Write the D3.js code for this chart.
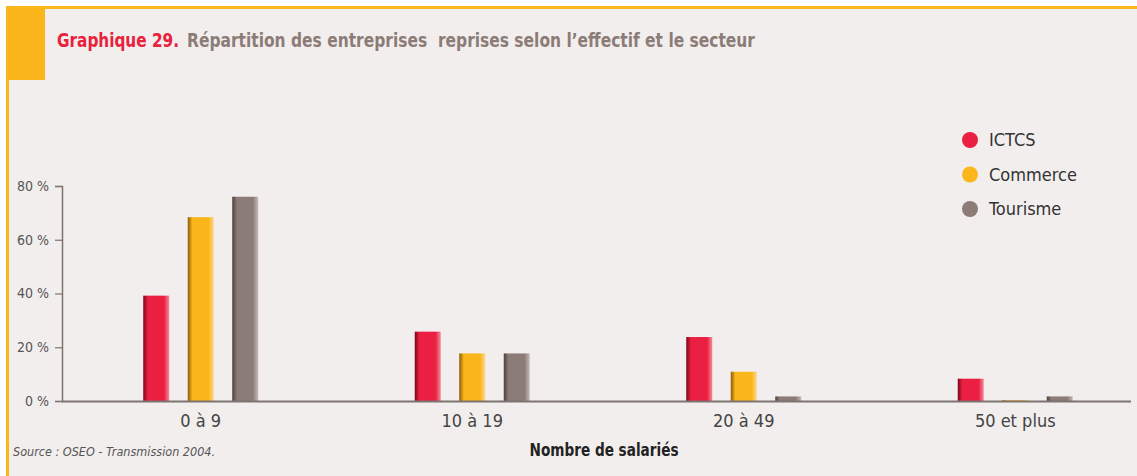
<!doctype html>
<html lang="fr">
<head>
<meta charset="utf-8"/>
<title>Graphique 29</title>
<script src="https://d3js.org/d3.v7.min.js"></script>
<style>
  body { margin: 0; background: #ffffff; }
  svg { display: block; }
</style>
</head>
<body>
<svg id="chart"></svg>
<script>
    // data
    const categories = ["0 à 9", "10 à 19", "20 à 49", "50 et plus"];
    const sectors = ["ICTCS", "Commerce", "Tourisme"];
    const ictcs = [39.2, 25.8, 23.8, 8.3];
    const commerce = [68.4, 17.7, 10.9, 0.3];
    const tourisme = [76.0, 17.7, 1.7, 1.7];
    const yTicks = [0, 20, 40, 60, 80];

    const series = [ictcs, commerce, tourisme];
    const colors = ["#ea1f41", "#fbb61b", "#8c7c77"];
    const darks = ["#7a0617", "#8a5a08", "#4a403d"];
    const lights = ["#f58a98", "#fdd68a", "#c7bcb8"];

    const width = 1137, height = 476;
    const bg = "#f2eeed", yellow = "#fbb61b";
    const font = "'Liberation Sans Narrow', 'DejaVu Sans Condensed', sans-serif";

    const svg = d3.select("#chart")
        .attr("width", width)
        .attr("height", height);

    // frame
    svg.append("rect").attr("x", 6).attr("y", 6).attr("width", width - 6).attr("height", height - 6).attr("fill", bg);
    svg.append("rect").attr("x", 6).attr("y", 6).attr("width", width - 6).attr("height", 3).attr("fill", yellow);
    svg.append("rect").attr("x", 6).attr("y", 6).attr("width", 3).attr("height", height - 6).attr("fill", yellow);
    svg.append("rect").attr("x", 6).attr("y", 6).attr("width", 39).attr("height", 74).attr("fill", yellow);

    // title, in two parts
    svg.append("text")
        .attr("x", 57).attr("y", 47)
        .attr("textLength", 122)
        .attr("lengthAdjust", "spacingAndGlyphs")
        .attr("fill", "#e8213d")
        .style("font-family", font)
        .style("font-weight", "bold")
        .style("font-size", "20px")
        .text("Graphique 29.");
    svg.append("text")
        .attr("x", 187).attr("y", 47)
        .attr("textLength", 568)
        .attr("lengthAdjust", "spacingAndGlyphs")
        .attr("xml:space", "preserve")
        .attr("fill", "#8c7c77")
        .style("font-family", font)
        .style("font-weight", "bold")
        .style("font-size", "20px")
        .text("Répartition des entreprises  reprises selon l’effectif et le secteur");

    // gradients for the bars
    const defs = svg.append("defs");
    colors.forEach((c, i) => {
        const g = defs.append("linearGradient").attr("id", "grad" + i)
            .attr("x1", "0%").attr("x2", "100%").attr("y1", "0%").attr("y2", "0%");
        g.append("stop").attr("offset", "0%").attr("stop-color", darks[i]);
        g.append("stop").attr("offset", "18%").attr("stop-color", c);
        g.append("stop").attr("offset", "80%").attr("stop-color", c);
        g.append("stop").attr("offset", "100%").attr("stop-color", lights[i]);
    });

    const x0 = d3.scaleBand().domain(categories).range([65, 1151]);
    const x1 = d3.scaleBand().domain(sectors).range([-57.5, 57.5]).paddingInner(0.416);
    const y = d3.scaleLinear().domain([0, 80]).range([401, 186]);

    // y axis
    const yAxis = svg.append("g")
        .attr("transform", "translate(62,0)")
        .call(d3.axisLeft(y).tickValues(yTicks).tickSize(7).tickPadding(6).tickFormat(d => d + " %"));
    yAxis.select(".domain").attr("stroke", "#7d7371").attr("stroke-width", 1.5);
    yAxis.selectAll(".tick line").attr("stroke", "#7d7371").attr("stroke-width", 1.2);
    yAxis.selectAll(".tick text")
        .attr("fill", "#555")
        .style("font-family", font)
        .style("font-size", "14px");

    // bars
    const groups = svg.append("g").selectAll("g")
        .data(categories)
        .join("g")
        .attr("transform", d => `translate(${x0(d) + x0.bandwidth() / 2},0)`);

    groups.selectAll("rect")
        .data((d, ci) => sectors.map((s, si) => ({ s, si, v: series[si][ci] })))
        .join("rect")
        .attr("x", d => x1(d.s))
        .attr("width", x1.bandwidth())
        .attr("y", d => y(d.v))
        .attr("height", d => y(0) - y(d.v))
        .attr("fill", d => `url(#grad${d.si})`);

    // x axis line
    svg.append("line")
        .attr("x1", 62).attr("x2", 1131)
        .attr("y1", 401.5).attr("y2", 401.5)
        .attr("stroke", "#7d7371").attr("stroke-width", 1.8);

    // category labels
    svg.append("g").selectAll("text")
        .data(categories)
        .join("text")
        .attr("x", d => x0(d) + x0.bandwidth() / 2)
        .attr("y", 427)
        .attr("text-anchor", "middle")
        .attr("fill", "#444")
        .style("font-family", font)
        .style("font-size", "18px")
        .text(d => d);

    // axis title + source
    svg.append("text")
        .attr("x", 604).attr("y", 456)
        .attr("text-anchor", "middle")
        .attr("textLength", 149)
        .attr("lengthAdjust", "spacingAndGlyphs")
        .attr("fill", "#222")
        .style("font-family", font)
        .style("font-weight", "bold")
        .style("font-size", "17px")
        .text("Nombre de salariés");

    svg.append("text")
        .attr("x", 13).attr("y", 456)
        .attr("fill", "#555")
        .style("font-family", font)
        .style("font-style", "italic")
        .style("font-size", "12.5px")
        .text("Source : OSEO - Transmission 2004.");

    // legend
    const legend = svg.append("g").selectAll("g")
        .data(sectors)
        .join("g")
        .attr("transform", (d, i) => `translate(970,${140 + i * 34.5})`);
    legend.append("circle").attr("r", 8).attr("fill", (d, i) => colors[i]);
    legend.append("text")
        .attr("x", 19).attr("y", 6)
        .attr("fill", "#333")
        .style("font-family", font)
        .style("font-size", "18px")
        .text(d => d);
</script>
</body>
</html>
